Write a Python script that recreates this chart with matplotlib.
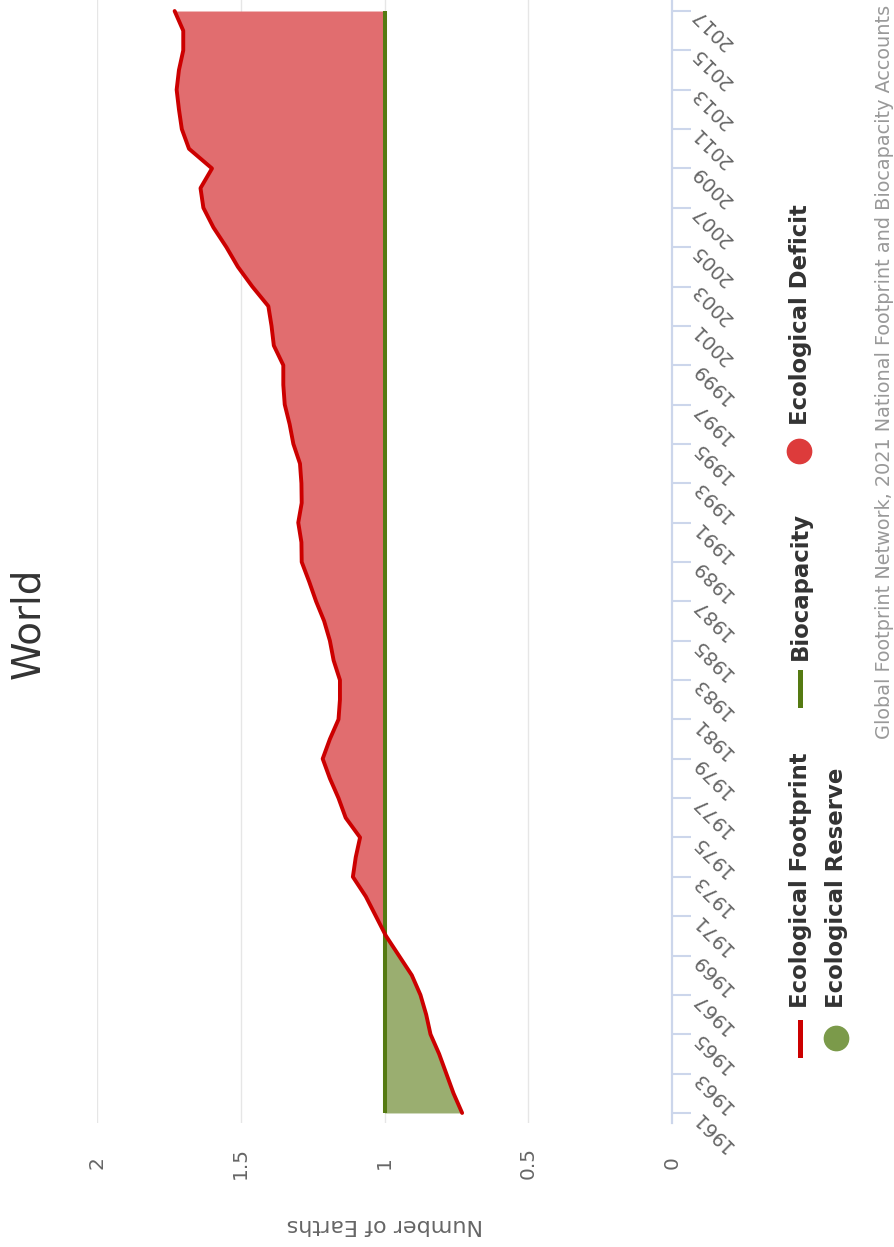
import matplotlib
matplotlib.use('Agg')
import matplotlib.pyplot as plt
from matplotlib.lines import Line2D
import numpy as np

# Ecological footprint of the world, in number of Earths
years = list(range(1961, 2018))
footprint = [0.73, 0.76, 0.785, 0.81, 0.84, 0.855, 0.875, 0.905, 0.95, 0.995,
             1.03, 1.065, 1.11, 1.10, 1.085, 1.135, 1.16, 1.19, 1.215, 1.19,
             1.16, 1.155, 1.155, 1.177, 1.19, 1.21, 1.238, 1.262, 1.288, 1.289,
             1.30, 1.288, 1.289, 1.294, 1.317, 1.33, 1.347, 1.352, 1.352, 1.385,
             1.393, 1.404, 1.46, 1.51, 1.55, 1.595, 1.63, 1.64, 1.60, 1.68,
             1.705, 1.715, 1.723, 1.715, 1.70, 1.70, 1.73]
biocapacity = [1.0] * len(years)
value_ticks = [0, 0.5, 1, 1.5, 2]
value_labels = ['0', '0.5', '1', '1.5', '2']
year_ticks = list(range(1961, 2018, 2))

title = 'World'
axis_title = 'Number of Earths'
source = 'Global Footprint Network, 2021 National Footprint and Biocapacity Accounts'

RED = '#cc0000'
DEFICIT = '#e16d6f'
RESERVE = '#9aae70'
GREEN = '#557a12'
AXIS = '#ccd6eb'

W, H = 894, 1247
fig = plt.figure(figsize=(W / 100, H / 100), dpi=100)
plt.rcParams['font.family'] = ['DejaVu Sans']


def fx(x):
    return x / W


def fy(y):
    return 1 - y / H


ax = fig.add_axes([fx(97), fy(1123), (672 - 97) / W, 1123 / H])

fp = np.array(footprint)
bc = np.array(biocapacity)
ax.fill_betweenx(years, bc, fp, where=fp >= bc, interpolate=True,
                 color=DEFICIT, lw=0)
ax.fill_betweenx(years, bc, fp, where=fp <= bc, interpolate=True,
                 color=RESERVE, lw=0)
ax.plot(bc, years, color=GREEN, lw=2.9, solid_capstyle='butt', zorder=3)
ax.plot(fp, years, color=RED, lw=2.8, solid_capstyle='round',
        solid_joinstyle='round', zorder=4)

ax.set_xlim(2, 0)
ax.set_ylim(1960.49, 2017.56)

for s in ['left', 'top', 'bottom']:
    ax.spines[s].set_visible(False)
ax.spines['right'].set_color(AXIS)
ax.spines['right'].set_linewidth(1.6)

ax.set_xticks(value_ticks)
ax.set_xticklabels(value_labels, rotation=90, ha='center', va='center',
                   fontsize=14.5, color='#666666')
ax.tick_params(axis='x', length=0, pad=28.8)
ax.grid(axis='x', color='#e6e6e6', lw=1)
ax.set_axisbelow(True)

ax.yaxis.tick_right()
ax.set_yticks(year_ticks)
ax.set_yticklabels([str(y) for y in year_ticks], rotation=135,
                   rotation_mode='anchor', ha='right', va='center',
                   fontsize=14, color='#666666')
ax.tick_params(axis='y', length=13.7, width=1.5, color=AXIS, pad=3)

# title, axis title, source
fig.text(fx(28), fy(623), title, rotation=90, ha='center', va='center',
         fontsize=28, color='#333333')
fig.text(fx(385), fy(1225), axis_title, rotation=180, ha='center',
         va='center', fontsize=16, color='#666666')
fig.text(fx(884), fy(5), source, rotation=90, rotation_mode='anchor',
         ha='right', va='center', fontsize=13.9, color='#999999')

# legend (drawn rotated, like the rest of the chart)
leg_font = dict(rotation=90, rotation_mode='anchor', ha='left', va='center',
                fontsize=16.4, fontweight='bold', color='#333333')
fig.add_artist(Line2D([fx(800), fx(800)], [fy(1055), fy(1022)],
                      transform=fig.transFigure, color=RED, lw=3.6))
fig.text(fx(800), fy(1008), 'Ecological Footprint', **leg_font)
fig.add_artist(Line2D([fx(800), fx(800)], [fy(705), fy(672)],
                      transform=fig.transFigure, color=GREEN, lw=3.6))
fig.text(fx(800), fy(660), 'Biocapacity', **leg_font)
fig.add_artist(Line2D([fx(799)], [fy(451)], transform=fig.transFigure,
                      marker='o', ms=17.5, color='#dd3b3b', lw=0))
fig.text(fx(800), fy(425), 'Ecological Deficit', **leg_font)
fig.add_artist(Line2D([fx(836)], [fy(1038)], transform=fig.transFigure,
                      marker='o', ms=17.5, color='#7b9a4a', lw=0))
fig.text(fx(837), fy(1008), 'Ecological Reserve', **leg_font)

fig.savefig('out.png', dpi=100)
